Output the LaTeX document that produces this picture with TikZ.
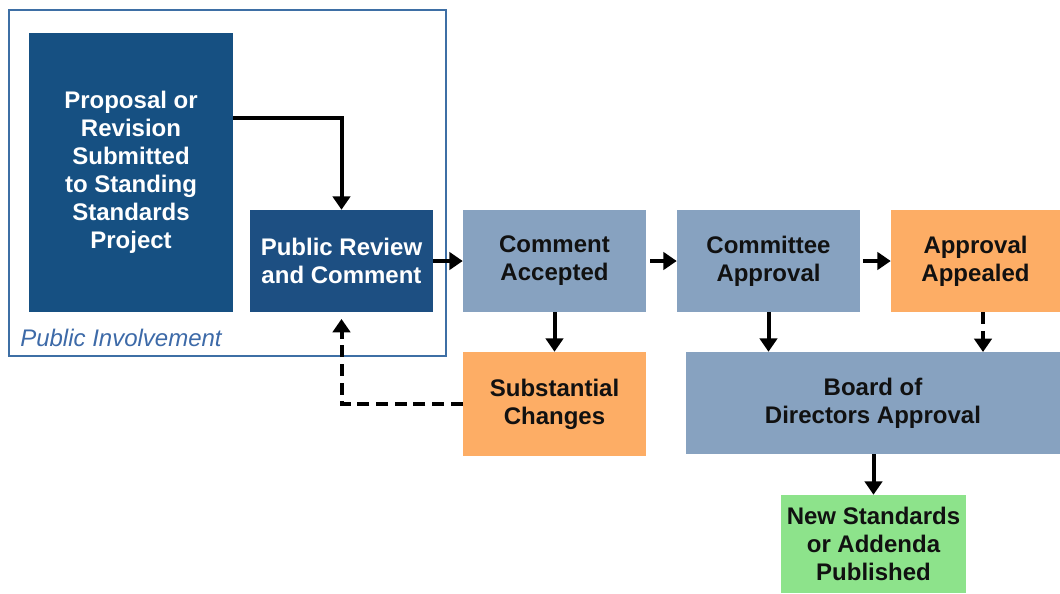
\documentclass[tikz,border=0pt]{standalone}
\usepackage{fontspec}
\setmainfont{Liberation Sans}
\usetikzlibrary{arrows.meta}
\definecolor{darkblue}{HTML}{165082}
\definecolor{revblue}{HTML}{1D4F82}
\definecolor{lightblue}{HTML}{87A2C0}
\definecolor{orangebox}{HTML}{FDAD65}
\definecolor{greenbox}{HTML}{8DE38B}
\definecolor{framecol}{HTML}{3E6FA5}
\definecolor{labelcol}{HTML}{3D6AA8}
\definecolor{textdark}{HTML}{111111}
\tikzset{
  box/.style={rectangle, inner sep=0pt, align=center, font=\fontsize{18}{21}\selectfont\bfseries},
  darkbox/.style={box, fill=darkblue, text=white},
  revbox/.style={box, fill=revblue, text=white},
  lightbox/.style={box, fill=lightblue, text=textdark},
  orangeb/.style={box, fill=orangebox, text=textdark},
  greenb/.style={box, fill=greenbox, text=textdark},
  conn/.style={line width=3pt, -{Triangle[width=13pt,length=10pt]}},
  dconn/.style={conn, dash pattern=on 9pt off 5pt},
}
\begin{document}
\begin{tikzpicture}[x=0.75pt, y=-0.75pt]
\useasboundingbox (0,0) rectangle (1060,593);
\draw[framecol, line width=0.9pt] (9,10) rectangle (446,356);
\node[anchor=base west, font=\fontsize{18}{21}\selectfont\itshape, text=labelcol, inner sep=0pt] (pi) at (20,346) {Public Involvement};
\node[darkbox, minimum width=153pt, minimum height=209.25pt] (prop) at (131,172.5) {Proposal or\\Revision\\Submitted\\to Standing\\Standards\\Project};
\node[revbox, minimum width=137.25pt, minimum height=76.5pt] (rev) at (341.5,261) {Public Review\\and Comment};
\node[lightbox, minimum width=137.25pt, minimum height=76.5pt] (ca) at (554.5,261) {Comment\\Accepted};
\node[lightbox, minimum width=137.25pt, minimum height=76.5pt] (cm) at (768.5,261) {Committee\\Approval};
\node[orangeb, minimum width=126.75pt, minimum height=76.5pt] (ap) at (975.5,261) {Approval\\Appealed};
\node[orangeb, minimum width=137.25pt, minimum height=78pt] (sc) at (554.5,404) {Substantial\\Changes};
\node[lightbox, minimum width=280.5pt, minimum height=76.5pt] (bd) at (873,403) {Board of\\Directors Approval};
\node[greenb, minimum width=138.75pt, minimum height=73.5pt] (ns) at (873.5,544) {New Standards\\or Addenda\\Published};
% connectors
\draw[conn] (prop.east |- 0,118) -| (rev.north);
\draw[conn] (rev.east) -- (ca.west);
\draw[conn] ([xshift=3pt]ca.east) -- (cm.west);
\draw[conn] ([xshift=2pt]cm.east) -- (ap.west);
\draw[conn] (ca.south) -- (sc.north);
\draw[conn] (cm.south) -- (cm.south |- bd.north);
\draw[dconn] (ap.south -| 983,0) -- (983,352);
\draw[dconn] (sc.west) -| ([yshift=-5pt]rev.south);
\draw[conn] (bd.south -| ns.north) -- (ns.north);
\end{tikzpicture}
\end{document}
